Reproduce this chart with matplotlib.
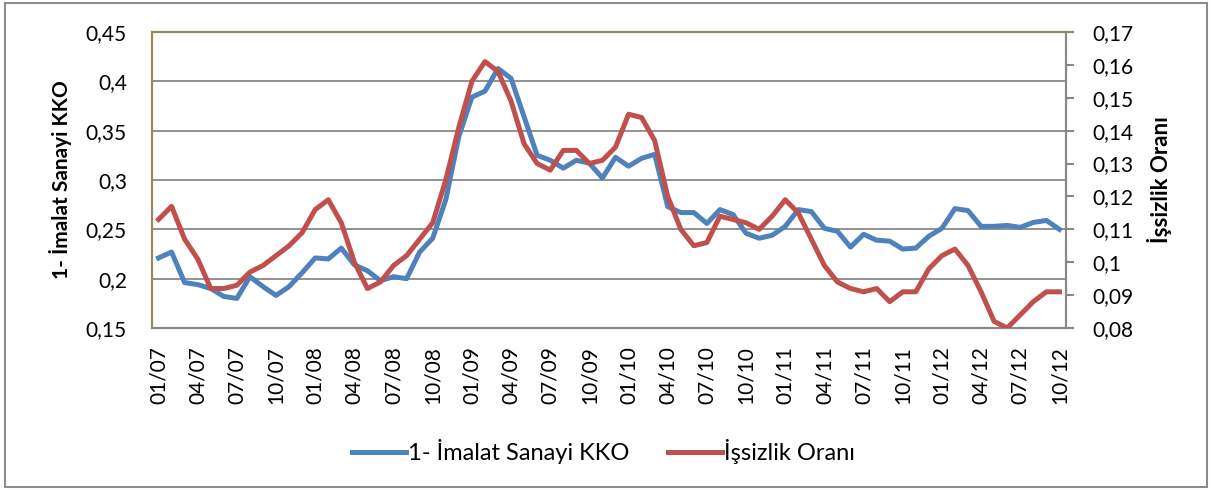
import matplotlib
matplotlib.use('Agg')
import matplotlib.pyplot as plt
from matplotlib.ticker import FuncFormatter, FixedLocator
from matplotlib.patches import Rectangle
from matplotlib.lines import Line2D

plt.rcParams['font.family'] = ['Lato', 'DejaVu Sans']

# monthly data, 01/07 .. 10/12
kko = [0.221, 0.227, 0.196, 0.194, 0.190, 0.182, 0.180, 0.202, 0.192, 0.183,
       0.192, 0.206, 0.221, 0.220, 0.231, 0.214, 0.208, 0.198, 0.202, 0.200,
       0.227, 0.241, 0.280, 0.344, 0.384, 0.390, 0.413, 0.403, 0.364, 0.325,
       0.320, 0.312, 0.320, 0.317, 0.302, 0.323, 0.314, 0.322, 0.326, 0.273,
       0.267, 0.267, 0.256, 0.270, 0.265, 0.246, 0.241, 0.244, 0.253, 0.270,
       0.268, 0.251, 0.248, 0.232, 0.245, 0.239, 0.238, 0.230, 0.231, 0.243,
       0.251, 0.271, 0.269, 0.253, 0.253, 0.254, 0.252, 0.257, 0.259, 0.250]
issizlik = [0.113, 0.117, 0.107, 0.101, 0.092, 0.092, 0.093, 0.097, 0.099, 0.102,
            0.105, 0.109, 0.116, 0.119, 0.112, 0.100, 0.092, 0.094, 0.099, 0.102,
            0.107, 0.112, 0.125, 0.141, 0.155, 0.161, 0.158, 0.149, 0.136, 0.130,
            0.128, 0.134, 0.134, 0.130, 0.131, 0.135, 0.145, 0.144, 0.137, 0.120,
            0.110, 0.105, 0.106, 0.114, 0.113, 0.112, 0.110, 0.114, 0.119, 0.115,
            0.107, 0.099, 0.094, 0.092, 0.091, 0.092, 0.088, 0.091, 0.091, 0.098,
            0.102, 0.104, 0.099, 0.091, 0.082, 0.080, 0.084, 0.088, 0.091, 0.091]
months = [f"{m:02d}/{y:02d}" for y in range(7, 13) for m in range(1, 13)][:len(kko)]

blue = '#4F81BD'
red = '#C0504D'
grid_gray = '#888888'
olive = '#958B57'


def comma_fmt(v, pos):
    return f"{round(v, 3):g}".replace('.', ',')


fig = plt.figure(figsize=(12.12, 4.9), dpi=100)
ax = fig.add_axes([0.1254, 0.3306, 0.7541, 0.6041])
ax2 = ax.twinx()

x = list(range(len(kko)))
ax.plot(x, kko, color=blue, linewidth=3.6, solid_joinstyle='round', zorder=3)
ax2.plot(x, issizlik, color=red, linewidth=3.6, solid_joinstyle='round', zorder=3)

ax.set_xlim(-0.5, len(kko) - 0.5)
ax.set_ylim(0.15, 0.45)
ax2.set_ylim(0.08, 0.17)

ax.yaxis.set_major_locator(FixedLocator([0.15, 0.2, 0.25, 0.3, 0.35, 0.4, 0.45]))
ax2.yaxis.set_major_locator(FixedLocator([0.08 + 0.01 * i for i in range(10)]))
ax.yaxis.set_major_formatter(FuncFormatter(comma_fmt))
ax2.yaxis.set_major_formatter(FuncFormatter(comma_fmt))

ax.set_xticks(x[::3])
ax.set_xticklabels(months[::3], rotation=90, fontsize=15)
ax.tick_params(axis='x', length=0, pad=13)
ax.tick_params(axis='y', length=0, labelsize=15, pad=18)
ax2.tick_params(axis='y', length=6, width=1.5, color=grid_gray, labelsize=15, pad=13)

for v in [0.2, 0.25, 0.3, 0.35, 0.4]:
    ax.axhline(v, color=grid_gray, linewidth=1.3, zorder=1)

for a in (ax, ax2):
    a.spines['top'].set_color(olive)
    a.spines['left'].set_color(olive)
    a.spines['bottom'].set_color(grid_gray)
    a.spines['right'].set_color(grid_gray)
    for s in a.spines.values():
        s.set_linewidth(1.5)

ax.set_ylabel('1- İmalat Sanayi KKO', fontsize=15, fontweight='bold', labelpad=10)
ax2.set_ylabel('İşsizlik Oranı', fontsize=16, fontweight='bold', labelpad=10)

handles = [Line2D([], [], color=blue, linewidth=3.6),
           Line2D([], [], color=red, linewidth=3.6)]
fig.legend(handles, ['1- İmalat Sanayi KKO', 'İşsizlik Oranı'],
           loc='center', bbox_to_anchor=(0.498, 0.078), ncol=2, frameon=False,
           fontsize=17, handlelength=2.3, handletextpad=0.1, columnspacing=1.6)

fig.patches.append(Rectangle((0.004, 0.006), 0.992, 0.988, transform=fig.transFigure,
                             fill=False, edgecolor='#8C8C8C', linewidth=1.5))

fig.savefig('out.png', dpi=100)
